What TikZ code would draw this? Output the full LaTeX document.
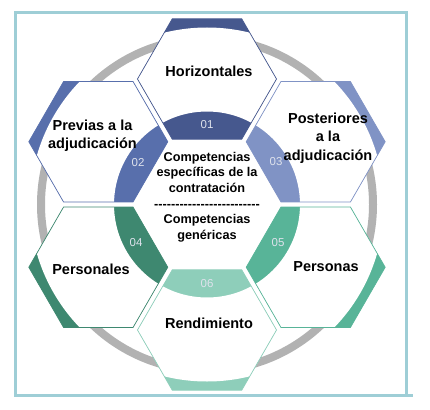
\documentclass[tikz,border=0pt]{standalone}
\usepackage{fontspec}
\setmainfont{Liberation Sans}[Ligatures=TeXOff]
\usetikzlibrary{calc}
\definecolor{cOne}{RGB}{70,88,142}
\definecolor{cTwo}{RGB}{88,111,172}
\definecolor{cThree}{RGB}{128,147,197}
\definecolor{cFour}{RGB}{62,136,112}
\definecolor{cFive}{RGB}{88,180,152}
\definecolor{cSix}{RGB}{142,206,186}
\definecolor{ringgray}{RGB}{178,178,178}
\definecolor{framecol}{RGB}{158,206,214}
\definecolor{numcol}{RGB}{222,226,236}

\newcommand\hexat[1]{($(#1)+(69.5,0)$) -- ($(#1)+(34.75,60.19)$) -- ($(#1)+(-34.75,60.19)$) -- ($(#1)+(-69.5,0)$) -- ($(#1)+(-34.75,-60.19)$) -- ($(#1)+(34.75,-60.19)$) -- cycle}

\newcommand\hexunit[2]{%
  \fill[#2] \hexat{#1};
  \begin{scope}
    \clip \hexat{#1};
    \fill[white, even odd rule] (hub) circle[radius=177] (hub) circle[radius=93];
  \end{scope}
  \draw[#2, line width=0.7] \hexat{#1};
}

\begin{document}
\begin{tikzpicture}[x=1pt,y=-1pt,
  lab/.style={font=\fontsize{14.5}{18.3}\selectfont\bfseries, align=center, text=black, inner sep=0},
  num/.style={font=\fontsize{11.5}{13}\selectfont, text=numcol, inner sep=0},
  ctr/.style={font=\fontsize{12.7}{15.3}\selectfont\bfseries, align=center, text=black, inner sep=0}]
\useasboundingbox (0,0) rectangle (430,409);
\coordinate (hub) at (207,204.5);
\coordinate (h1) at (207,79);
\coordinate (h2) at (98.3,141.75);
\coordinate (h3) at (315.7,141.75);
\coordinate (h4) at (98.3,267.25);
\coordinate (h5) at (315.7,267.25);
\coordinate (h6) at (207,330);

\draw[ringgray, line width=8] (hub) circle[radius=166];

\hexunit{h1}{cOne}
\hexunit{h2}{cTwo}
\hexunit{h3}{cThree}
\hexunit{h4}{cFour}
\hexunit{h5}{cFive}
\hexunit{h6}{cSix}

\draw[framecol, line width=3] (15.5,13) -- (406.5,13) -- (406.5,395) -- (15.5,395) -- cycle;
\draw[framecol, line width=3] (406.5,395) -- (413,395);

\node[lab] (t1) at (209,71) {Horizontales};
\node[lab] (t2) at (92.5,136) {Previas a la\\adjudicación};
\node[lab] (t3) at (328,138) {Posteriores\\a la\\adjudicación};
\node[lab] (t4) at (91,269) {Personales};
\node[lab] (t5) at (326,267) {Personas};
\node[lab] (t6) at (209,323) {Rendimiento};

\node[num] (n1) at (207,125) {01};
\node[num] (n2) at (138,163) {02};
\node[num] (n3) at (276,162) {03};
\node[num] (n4) at (136,243) {04};
\node[num] (n5) at (278,243) {05};
\node[num] (n6) at (207,284) {06};

\node[ctr] (mid) at (207,197) {Competencias\\específicas de la\\contratación\\[1pt]-------------------------\\Competencias\\genéricas};
\end{tikzpicture}
\end{document}
